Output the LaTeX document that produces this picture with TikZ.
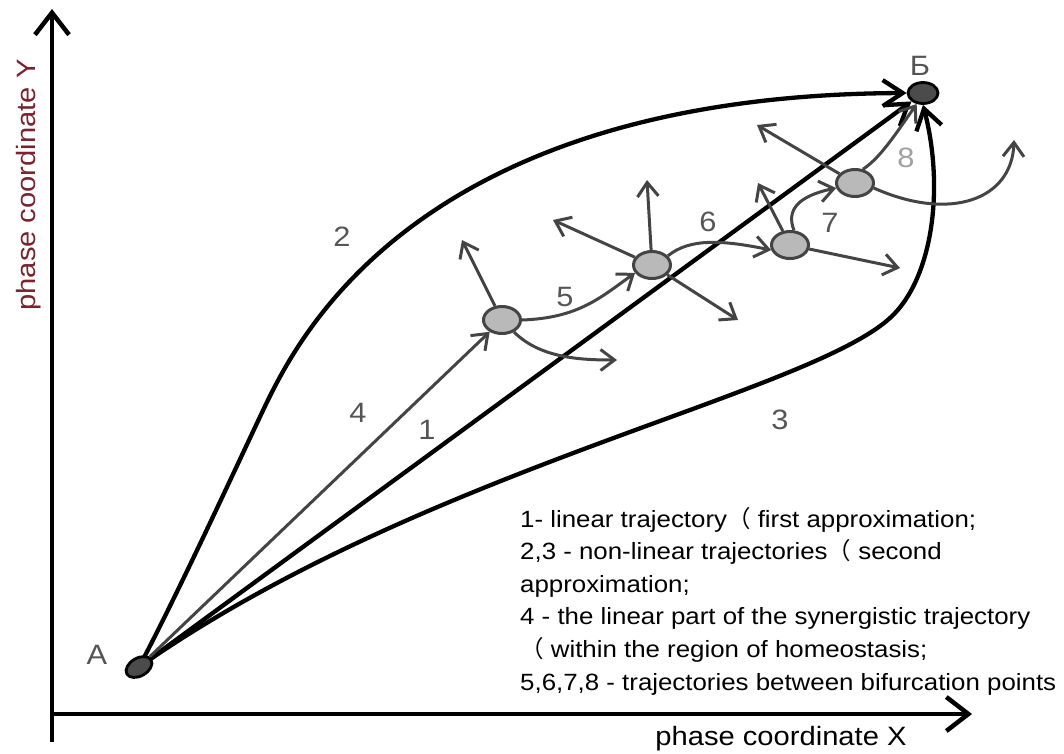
\documentclass[tikz,border=0pt]{standalone}
\usepackage{fontspec}
\setmainfont{Liberation Sans}[FakeStretch=1.1]
\newfontfamily\cjk{Noto Sans CJK SC}
\usetikzlibrary{arrows.meta,shapes.geometric}
\definecolor{dg}{RGB}{68,68,68}
\definecolor{dotfill}{RGB}{185,185,185}
\definecolor{lab}{RGB}{85,85,85}
\definecolor{ylab}{RGB}{120,35,45}
\definecolor{endfill}{RGB}{75,75,75}
\pgfdeclarelayer{bg}
\pgfsetlayers{bg,main}
\tikzset{
  axisline/.style={line width=4.5pt, -{Straight Barb[length=22pt,width=34pt]}},
  bk/.style={line width=4.3pt, -{Straight Barb[length=20pt,width=26pt]}},
  gr/.style={draw=dg, line width=3pt, -{Straight Barb[length=14pt,width=21pt]}},
  bif/.style={ellipse, draw=dg, fill=dotfill, line width=3pt, minimum width=37pt, minimum height=27pt, inner sep=0pt},
  endpt/.style={ellipse, draw=black, fill=endfill, line width=2.8pt, inner sep=0pt},
  num/.style={text=lab, font=\fontsize{28}{28}\selectfont, inner sep=0pt},
  legend/.style={anchor=base west, inner sep=0pt, font=\fontsize{23.5}{23.5}\selectfont},
  axlab/.style={inner sep=0pt, font=\fontsize{26.5}{26.5}\selectfont}
}
\begin{document}
\begin{tikzpicture}[x=1pt,y=-1pt,line join=round,line cap=round]
\useasboundingbox (0,0) rectangle (1064,753);
% end points and bifurcation points
\node[endpt, minimum width=28pt, minimum height=18pt, rotate=30] (A) at (139,667) {};
\node[endpt, minimum width=30pt, minimum height=21pt] (B) at (923,93) {};
\node[bif] (p1) at (502,320) {};
\node[bif] (p2) at (652,265) {};
\node[bif] (p3) at (790,245) {};
\node[bif] (p4) at (855,183) {};
% axes
\coordinate (O) at (52,714);
\coordinate (Yb) at (52,742);
\coordinate (Yt) at (52,9);
\coordinate (Xe) at (972,714);
\coordinate (c2) at (268,400);
\coordinate (c3) at (890,318);
\begin{pgfonlayer}{bg}
\draw[axisline] (Yb) -- (Yt);
\draw[axisline] (O) -- (Xe);
% trajectory 1
\draw[bk] (A) -- (B);
% trajectory 2
\draw[bk] (A.center) .. controls (180,590) and (250,437) .. (c2)
  .. controls (305,325) and (430,95) .. (B.west);
% trajectory 3
\draw[bk] (A.center) .. controls (420,470) and (805,395) .. (c3)
  .. controls (932,280) and (945,190) .. (B.south);
% trajectory 4
\draw[gr] (A) -- (p1);
% branches from p1
\coordinate (t1a) at (462,240);
\coordinate (t1b) at (617,360);
\draw[gr] (p1) -- (t1a);
\draw[gr] (p1.-45) .. controls (540,358) and (580,360) .. (t1b);
\draw[gr] (p1.east) .. controls (578,318) and (600,298) .. (p2.-155);
% branches from p2
\coordinate (t2a) at (647,180);
\coordinate (t2b) at (553,220);
\coordinate (t2c) at (738,320);
\draw[gr] (p2) -- (t2a);
\draw[gr] (p2) -- (t2b);
\draw[gr] (p2) -- (t2c);
\draw[gr] (p2.30) .. controls (690,238) and (722,240) .. (p3.195);
% branches from p3
\coordinate (t3a) at (758,183);
\coordinate (t3b) at (900,268);
\draw[gr] (p3) -- (t3a);
\draw[gr] (p3) -- (t3b);
\draw[gr] (p3.75) .. controls (786,210) and (798,196) .. (p4.195);
% branches from p4
\coordinate (t4a) at (757,125);
\coordinate (t4c) at (1014,140);
\draw[gr] (p4) -- (t4a);
\draw[gr] (p4.60) .. controls (880,158) and (895,135) .. (B.-120);
\draw[gr] (p4.-15) .. controls (950,222) and (1012,200) .. (t4c);
\end{pgfonlayer}
% labels
\node[num] (lA) at (97,655) {A};
\node[num] (lB) at (920,66) {Б};
\node[num] (n1) at (427,430) {1};
\node[num] (n2) at (342,237) {2};
\node[num] (n3) at (780,420) {3};
\node[num] (n4) at (358,413) {4};
\node[num] (n5) at (565,297) {5};
\node[num] (n6) at (708,222) {6};
\node[num] (n7) at (830,223) {7};
\node[num, text={rgb,255:red,160;green,160;blue,160}] (n8) at (906,158) {8};
% axis labels
\node[axlab, anchor=base] (xl) at (781,745) {phase coordinate X};
\node[axlab, anchor=base, rotate=90, text=ylab] (yl) at (35,185) {phase coordinate Y};
% legend
\node[legend] (g1) at (520,527) {1- linear trajectory{\cjk （} first approximation;};
\node[legend] (g2) at (520,559) {2,3 - non-linear trajectories{\cjk （} second};
\node[legend] (g3) at (520,592) {approximation;};
\node[legend] (g4) at (520,624) {4 - the linear part of the synergistic trajectory};
\node[legend] (g5) at (520,657) {{\cjk （} within the region of homeostasis;};
\node[legend] (g6) at (520,690) {5,6,7,8 - trajectories between bifurcation points};
\end{tikzpicture}
\end{document}
